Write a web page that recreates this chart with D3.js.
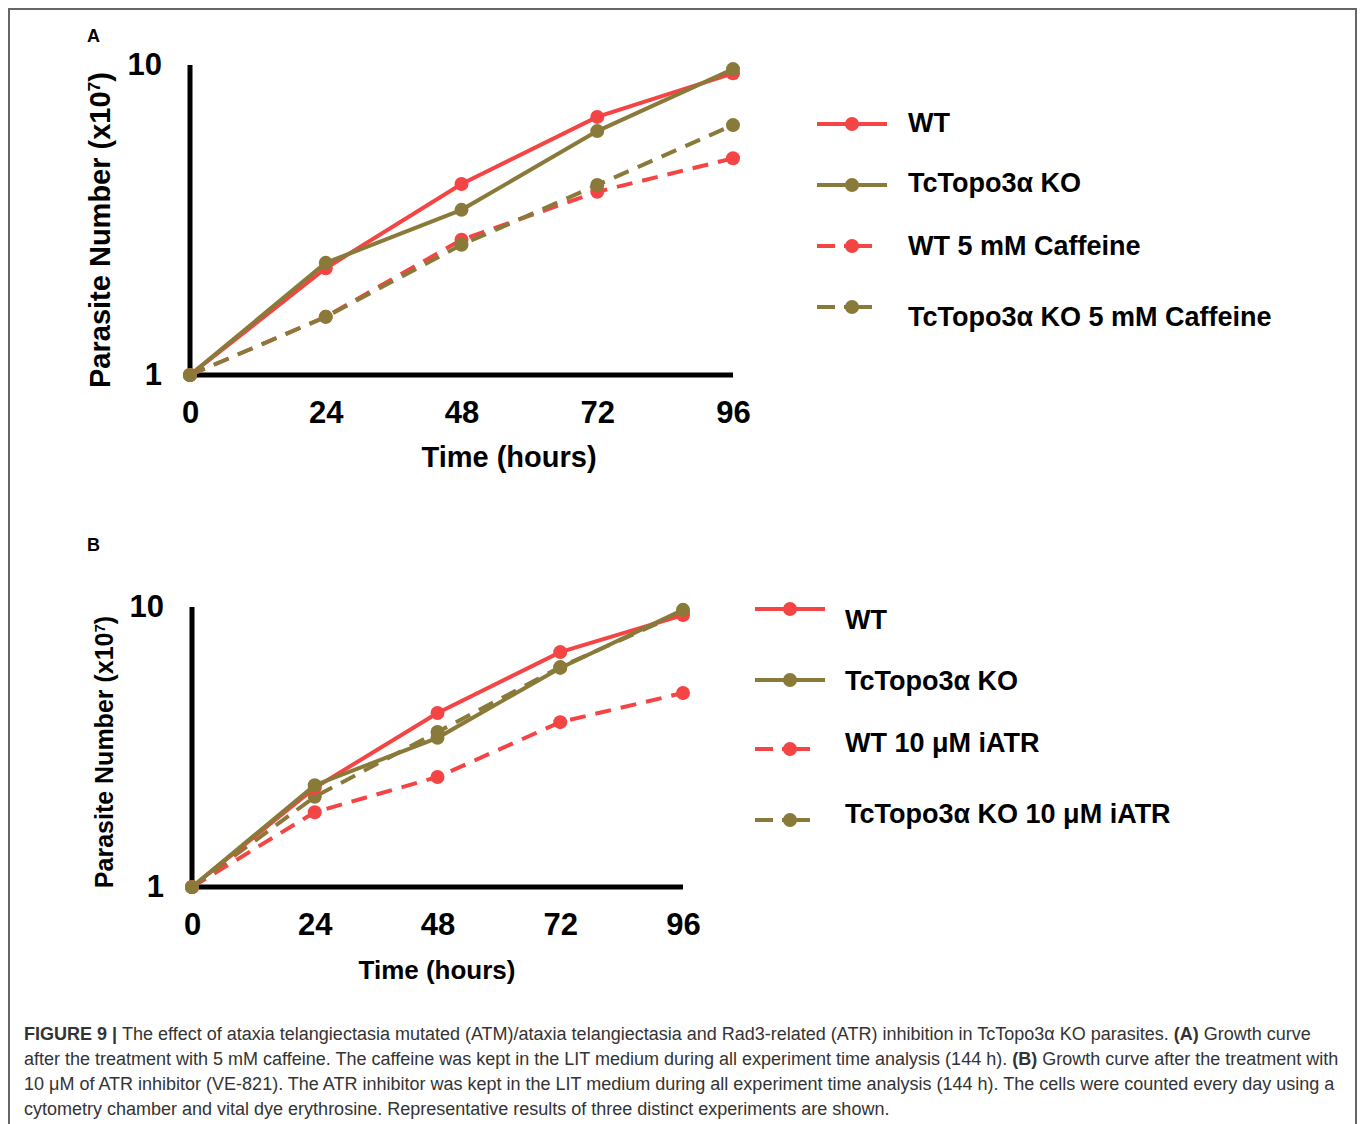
<!DOCTYPE html>
<html>
<head>
<meta charset="utf-8">
<script src="https://cdn.jsdelivr.net/npm/d3@7"></script>
<style>
  body { margin: 0; background: #fff; }
  .tick text { font-family: "Liberation Sans Narrow", "Arial Narrow", "Liberation Sans", sans-serif; font-weight: bold; }
</style>
</head>
<body>
<script>
// Time points (hours)
var hours = [0, 24, 48, 72, 96];
var yTicks = [1, 10];

// Panel A values (x10^7 parasites)
var wtA = [1, 2.21, 4.13, 6.8, 9.4];
var koA = [1, 2.3, 3.41, 6.12, 9.7];
var wtCaf = [1, 1.54, 2.73, 3.9, 5.0];
var koCaf = [1, 1.54, 2.63, 4.1, 6.4];

// Panel B values
var wtB = [1, 2.26, 4.18, 6.9, 9.36];
var koB = [1, 2.31, 3.41, 6.06, 9.77];
var wtAtr = [1, 1.85, 2.47, 3.88, 4.93];
var koAtr = [1, 2.1, 3.58, 6.1, 9.6];

var namesA = ["WT", "TcTopo3α KO", "WT 5 mM Caffeine", "TcTopo3α KO 5 mM Caffeine"];
var namesB = ["WT", "TcTopo3α KO", "WT 10 μM iATR", "TcTopo3α KO 10 μM iATR"];

var red = "#f44444";
var olive = "#8a7a3a";

var W = 1360, H = 1124;
var svg = d3.select("body").append("svg")
  .attr("width", W)
  .attr("height", H);

// frame
svg.append("path")
  .attr("d", "M9,1124 V9 H1356 V1124")
  .attr("fill", "none")
  .attr("stroke", "#666")
  .attr("stroke-width", 2);

function panel(cfg) {
  var x = d3.scaleLinear().domain([0, 96]).range([cfg.x0, cfg.x1]);
  var y = d3.scaleLog().domain([1, 10]).range([cfg.y0, cfg.y1]);
  var g = svg.append("g");

  // panel letter
  g.append("text")
    .attr("x", 87).attr("y", cfg.letterY)
    .attr("font-family", "Liberation Sans, Arial, sans-serif")
    .attr("font-weight", "bold")
    .attr("font-size", 18)
    .text(cfg.letter);

  // axes
  var xa = g.append("g")
    .attr("transform", "translate(0," + cfg.y0 + ")")
    .call(d3.axisBottom(x).tickValues(hours).tickSize(0).tickPadding(cfg.xPad).tickSizeOuter(0));
  xa.select(".domain").attr("stroke-width", 5).attr("d", "M" + (cfg.x0 - 2) + ",0H" + cfg.x1);
  xa.selectAll("text").attr("font-size", cfg.tickSize);

  var ya = g.append("g")
    .attr("transform", "translate(" + cfg.x0 + ",0)")
    .call(d3.axisLeft(y).tickValues(yTicks).tickFormat(d3.format("d")).tickSize(0).tickPadding(28).tickSizeOuter(0));
  ya.select(".domain").attr("stroke-width", 5).attr("d", "M0," + (cfg.y0 + 2) + "V" + cfg.y1);
  ya.selectAll("text").attr("font-size", cfg.tickSize);

  // axis titles
  g.append("text")
    .attr("x", cfg.xTitleX).attr("y", cfg.xTitleY)
    .attr("text-anchor", "middle")
    .attr("font-family", "Liberation Sans Narrow, Arial Narrow, sans-serif")
    .attr("font-weight", "bold")
    .attr("font-size", cfg.titleSize)
    .text("Time (hours)");

  var yt = g.append("text")
    .attr("transform", "translate(" + cfg.yTitleX + "," + cfg.yTitleY + ") rotate(-90)")
    .attr("text-anchor", "middle")
    .attr("font-family", "Liberation Sans Narrow, Arial Narrow, sans-serif")
    .attr("font-weight", "bold")
    .attr("font-size", cfg.yTitleSize);
  yt.append("tspan").text("Parasite Number (x10");
  yt.append("tspan").attr("baseline-shift", "super").attr("font-size", cfg.yTitleSize * 0.6).text("7");
  yt.append("tspan").text(")");

  var line = d3.line().x(function(d, i) { return x(hours[i]); }).y(function(d) { return y(d); });

  var series = [
    { v: cfg.s[2], c: red, dash: true },
    { v: cfg.s[3], c: olive, dash: true },
    { v: cfg.s[0], c: red, dash: false },
    { v: cfg.s[1], c: olive, dash: false }
  ];
  series.forEach(function(s) {
    g.append("path")
      .datum(s.v)
      .attr("d", line)
      .attr("fill", "none")
      .attr("stroke", s.c)
      .attr("stroke-width", 4)
      .attr("stroke-dasharray", s.dash ? "16,10" : null);
    g.selectAll(null)
      .data(s.v)
      .enter()
      .append("circle")
      .attr("cx", function(d, i) { return x(hours[i]); })
      .attr("cy", function(d) { return y(d); })
      .attr("r", 7)
      .attr("fill", s.c);
  });

  // legend
  var cols = [red, olive, red, olive];
  cfg.names.forEach(function(n, i) {
    var ly = cfg.legSymY[i];
    var lx = cfg.legX;
    var lg = g.append("g");
    if (i < 2) {
      lg.append("line").attr("x1", lx).attr("x2", lx + 70).attr("y1", ly).attr("y2", ly)
        .attr("stroke", cols[i]).attr("stroke-width", 4);
    } else {
      lg.append("line").attr("x1", lx).attr("x2", lx + 18).attr("y1", ly).attr("y2", ly)
        .attr("stroke", cols[i]).attr("stroke-width", 4);
      lg.append("line").attr("x1", lx + 27).attr("x2", lx + 55).attr("y1", ly).attr("y2", ly)
        .attr("stroke", cols[i]).attr("stroke-width", 4);
    }
    lg.append("circle").attr("cx", lx + 35).attr("cy", ly).attr("r", 7).attr("fill", cols[i]);
    lg.append("text")
      .attr("x", cfg.legTextX).attr("y", cfg.legTextY[i])
      .attr("dy", "0.35em")
      .attr("font-family", "Liberation Sans, Arial, sans-serif")
      .attr("font-weight", "bold")
      .attr("font-size", 27)
      .text(n);
  });
}

panel({
  letter: "A", letterY: 42,
  x0: 190, x1: 733, y0: 375, y1: 65,
  xPad: 26, tickSize: 31, titleSize: 29, yTitleSize: 29,
  xTitleX: 509, xTitleY: 467, yTitleX: 110, yTitleY: 230,
  s: [wtA, koA, wtCaf, koCaf], names: namesA,
  legX: 817, legTextX: 908,
  legSymY: [124, 185, 246, 307], legTextY: [123, 183, 246, 317]
});

panel({
  letter: "B", letterY: 551,
  x0: 192, x1: 683, y0: 887, y1: 607,
  xPad: 26, tickSize: 31, titleSize: 26, yTitleSize: 25,
  xTitleX: 437, xTitleY: 979, yTitleX: 113, yTitleY: 752,
  s: [wtB, koB, wtAtr, koAtr], names: namesB,
  legX: 755, legTextX: 845,
  legSymY: [609, 680, 749, 820], legTextY: [620, 681, 743, 814]
});

// caption
var capLines = [
  [["FIGURE 9 | ", true], ["The effect of ataxia telangiectasia mutated (ATM)/ataxia telangiectasia and Rad3-related (ATR) inhibition in TcTopo3α KO parasites. ", false], ["(A)", true], [" Growth curve", false]],
  [["after the treatment with 5 mM caffeine. The caffeine was kept in the LIT medium during all experiment time analysis (144 h). ", false], ["(B)", true], [" Growth curve after the treatment with", false]],
  [["10 μM of ATR inhibitor (VE-821). The ATR inhibitor was kept in the LIT medium during all experiment time analysis (144 h). The cells were counted every day using a", false]],
  [["cytometry chamber and vital dye erythrosine. Representative results of three distinct experiments are shown.", false]]
];
capLines.forEach(function(l, i) {
  var t = svg.append("text")
    .attr("x", 24).attr("y", 1040 + i * 25)
    .attr("font-family", "Liberation Sans, Arial, sans-serif")
    .attr("font-size", 18)
    .attr("fill", "#333");
  l.forEach(function(p) {
    t.append("tspan").attr("font-weight", p[1] ? "bold" : null).text(p[0]);
  });
});
</script>
</body>
</html>
